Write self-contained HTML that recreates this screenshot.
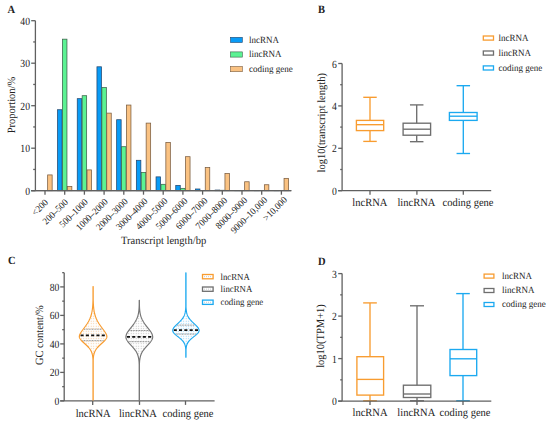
<!DOCTYPE html>
<html><head><meta charset="utf-8"><style>
html,body{margin:0;padding:0;background:#fff;}
svg{display:block;font-family:"Liberation Serif", serif;text-rendering:geometricPrecision;}
</style></head><body>
<svg width="550" height="424" viewBox="0 0 550 424">
<rect width="550" height="424" fill="#fff"/>
<text transform="translate(7.60,13.00) scale(1.0,1.06)" font-size="10.5" text-anchor="start" font-weight="bold" fill="#222" stroke="#222" stroke-width="0">A</text>
<line x1="35.40" y1="20.70" x2="35.40" y2="190.70" stroke="#606060" stroke-width="1.3" />
<line x1="31.20" y1="190.70" x2="35.40" y2="190.70" stroke="#606060" stroke-width="1.3" />
<text transform="translate(30.00,194.70) scale(0.92,1.05)" font-size="10.5" text-anchor="end" font-weight="normal" fill="#222" stroke="#222" stroke-width="0">0</text>
<line x1="33.20" y1="169.45" x2="35.40" y2="169.45" stroke="#606060" stroke-width="1.3" />
<line x1="31.20" y1="148.20" x2="35.40" y2="148.20" stroke="#606060" stroke-width="1.3" />
<text transform="translate(30.00,152.20) scale(0.92,1.05)" font-size="10.5" text-anchor="end" font-weight="normal" fill="#222" stroke="#222" stroke-width="0">10</text>
<line x1="33.20" y1="126.95" x2="35.40" y2="126.95" stroke="#606060" stroke-width="1.3" />
<line x1="31.20" y1="105.70" x2="35.40" y2="105.70" stroke="#606060" stroke-width="1.3" />
<text transform="translate(30.00,109.70) scale(0.92,1.05)" font-size="10.5" text-anchor="end" font-weight="normal" fill="#222" stroke="#222" stroke-width="0">20</text>
<line x1="33.20" y1="84.45" x2="35.40" y2="84.45" stroke="#606060" stroke-width="1.3" />
<line x1="31.20" y1="63.20" x2="35.40" y2="63.20" stroke="#606060" stroke-width="1.3" />
<text transform="translate(30.00,67.20) scale(0.92,1.05)" font-size="10.5" text-anchor="end" font-weight="normal" fill="#222" stroke="#222" stroke-width="0">30</text>
<line x1="33.20" y1="41.95" x2="35.40" y2="41.95" stroke="#606060" stroke-width="1.3" />
<line x1="31.20" y1="20.70" x2="35.40" y2="20.70" stroke="#606060" stroke-width="1.3" />
<text transform="translate(30.00,24.70) scale(0.92,1.05)" font-size="10.5" text-anchor="end" font-weight="normal" fill="#222" stroke="#222" stroke-width="0">40</text>
<line x1="31.20" y1="190.70" x2="291.30" y2="190.70" stroke="#606060" stroke-width="1.3" />
<text transform="translate(15.20,105.00) rotate(-90) scale(1.0,1.06)" font-size="10.5" text-anchor="middle" font-weight="normal" fill="#222" stroke="#222" stroke-width="0">Proportion/%</text>
<text transform="translate(163.60,244.00) scale(1.0,1.06)" font-size="10.5" text-anchor="middle" font-weight="normal" fill="#222" stroke="#222" stroke-width="0">Transcript length/bp</text>
<rect x="47.65" y="174.92" width="4.50" height="15.78" fill="#fac282" stroke="#7a5c3f" stroke-width="0.75" />
<line x1="45.00" y1="190.70" x2="45.00" y2="194.70" stroke="#606060" stroke-width="1.3" />
<text transform="translate(48.70,203.00) rotate(-45) scale(1.0,1.06)" font-size="9.0" text-anchor="end" font-weight="normal" fill="#222" stroke="#222" stroke-width="0">&lt;200</text>
<rect x="57.55" y="109.72" width="4.50" height="80.98" fill="#089bf6" stroke="#24466e" stroke-width="0.75" />
<rect x="62.45" y="39.17" width="4.50" height="151.53" fill="#5cf393" stroke="#3b6049" stroke-width="0.75" />
<rect x="67.35" y="186.48" width="4.50" height="4.22" fill="#fac282" stroke="#7a5c3f" stroke-width="0.75" />
<line x1="64.70" y1="190.70" x2="64.70" y2="194.70" stroke="#606060" stroke-width="1.3" />
<text transform="translate(68.62,202.78) rotate(-45) scale(1.0,1.06)" font-size="9.0" text-anchor="end" font-weight="normal" fill="#222" stroke="#222" stroke-width="0">200–500</text>
<rect x="77.25" y="98.67" width="4.50" height="92.02" fill="#089bf6" stroke="#24466e" stroke-width="0.75" />
<rect x="82.15" y="95.70" width="4.50" height="95.00" fill="#5cf393" stroke="#3b6049" stroke-width="0.75" />
<rect x="87.05" y="169.90" width="4.50" height="20.80" fill="#fac282" stroke="#7a5c3f" stroke-width="0.75" />
<line x1="84.40" y1="190.70" x2="84.40" y2="194.70" stroke="#606060" stroke-width="1.3" />
<text transform="translate(88.54,202.56) rotate(-45) scale(1.0,1.06)" font-size="9.0" text-anchor="end" font-weight="normal" fill="#222" stroke="#222" stroke-width="0">500–1000</text>
<rect x="96.95" y="66.80" width="4.50" height="123.90" fill="#089bf6" stroke="#24466e" stroke-width="0.75" />
<rect x="101.85" y="87.62" width="4.50" height="103.08" fill="#5cf393" stroke="#3b6049" stroke-width="0.75" />
<rect x="106.75" y="113.12" width="4.50" height="77.58" fill="#fac282" stroke="#7a5c3f" stroke-width="0.75" />
<line x1="104.10" y1="190.70" x2="104.10" y2="194.70" stroke="#606060" stroke-width="1.3" />
<text transform="translate(108.46,202.34) rotate(-45) scale(1.0,1.06)" font-size="9.0" text-anchor="end" font-weight="normal" fill="#222" stroke="#222" stroke-width="0">1000–2000</text>
<rect x="116.65" y="119.71" width="4.50" height="70.99" fill="#089bf6" stroke="#24466e" stroke-width="0.75" />
<rect x="121.55" y="146.70" width="4.50" height="44.00" fill="#5cf393" stroke="#3b6049" stroke-width="0.75" />
<rect x="126.45" y="105.05" width="4.50" height="85.65" fill="#fac282" stroke="#7a5c3f" stroke-width="0.75" />
<line x1="123.80" y1="190.70" x2="123.80" y2="194.70" stroke="#606060" stroke-width="1.3" />
<text transform="translate(128.38,202.12) rotate(-45) scale(1.0,1.06)" font-size="9.0" text-anchor="end" font-weight="normal" fill="#222" stroke="#222" stroke-width="0">2000–3000</text>
<rect x="136.35" y="160.30" width="4.50" height="30.40" fill="#089bf6" stroke="#24466e" stroke-width="0.75" />
<rect x="141.25" y="172.41" width="4.50" height="18.29" fill="#5cf393" stroke="#3b6049" stroke-width="0.75" />
<rect x="146.15" y="123.11" width="4.50" height="67.59" fill="#fac282" stroke="#7a5c3f" stroke-width="0.75" />
<line x1="143.50" y1="190.70" x2="143.50" y2="194.70" stroke="#606060" stroke-width="1.3" />
<text transform="translate(148.30,201.90) rotate(-45) scale(1.0,1.06)" font-size="9.0" text-anchor="end" font-weight="normal" fill="#222" stroke="#222" stroke-width="0">3000–4000</text>
<rect x="156.05" y="176.87" width="4.50" height="13.82" fill="#089bf6" stroke="#24466e" stroke-width="0.75" />
<rect x="160.95" y="184.31" width="4.50" height="6.39" fill="#5cf393" stroke="#3b6049" stroke-width="0.75" />
<rect x="165.85" y="142.45" width="4.50" height="48.25" fill="#fac282" stroke="#7a5c3f" stroke-width="0.75" />
<line x1="163.20" y1="190.70" x2="163.20" y2="194.70" stroke="#606060" stroke-width="1.3" />
<text transform="translate(168.22,201.68) rotate(-45) scale(1.0,1.06)" font-size="9.0" text-anchor="end" font-weight="normal" fill="#222" stroke="#222" stroke-width="0">4000–5000</text>
<rect x="175.75" y="185.37" width="4.50" height="5.33" fill="#089bf6" stroke="#24466e" stroke-width="0.75" />
<rect x="180.65" y="188.35" width="4.50" height="2.35" fill="#5cf393" stroke="#3b6049" stroke-width="0.75" />
<rect x="185.55" y="156.69" width="4.50" height="34.01" fill="#fac282" stroke="#7a5c3f" stroke-width="0.75" />
<line x1="182.90" y1="190.70" x2="182.90" y2="194.70" stroke="#606060" stroke-width="1.3" />
<text transform="translate(188.14,201.46) rotate(-45) scale(1.0,1.06)" font-size="9.0" text-anchor="end" font-weight="normal" fill="#222" stroke="#222" stroke-width="0">5000–6000</text>
<rect x="195.45" y="188.99" width="4.50" height="1.71" fill="#089bf6" stroke="#24466e" stroke-width="0.75" />
<rect x="200.35" y="190.47" width="4.50" height="0.23" fill="#5cf393" stroke="#3b6049" stroke-width="0.75" />
<rect x="205.25" y="167.52" width="4.50" height="23.18" fill="#fac282" stroke="#7a5c3f" stroke-width="0.75" />
<line x1="202.60" y1="190.70" x2="202.60" y2="194.70" stroke="#606060" stroke-width="1.3" />
<text transform="translate(208.06,201.24) rotate(-45) scale(1.0,1.06)" font-size="9.0" text-anchor="end" font-weight="normal" fill="#222" stroke="#222" stroke-width="0">6000–7000</text>
<rect x="215.15" y="190.05" width="4.50" height="0.65" fill="#089bf6" stroke="#24466e" stroke-width="0.75" />
<rect x="220.05" y="190.26" width="4.50" height="0.44" fill="#5cf393" stroke="#3b6049" stroke-width="0.75" />
<rect x="224.95" y="173.47" width="4.50" height="17.22" fill="#fac282" stroke="#7a5c3f" stroke-width="0.75" />
<line x1="222.30" y1="190.70" x2="222.30" y2="194.70" stroke="#606060" stroke-width="1.3" />
<text transform="translate(227.98,201.02) rotate(-45) scale(1.0,1.06)" font-size="9.0" text-anchor="end" font-weight="normal" fill="#222" stroke="#222" stroke-width="0">7000–8000</text>
<rect x="234.85" y="190.47" width="4.50" height="0.23" fill="#089bf6" stroke="#24466e" stroke-width="0.75" />
<rect x="239.75" y="190.69" width="4.50" height="0.01" fill="#5cf393" stroke="#3b6049" stroke-width="0.75" />
<rect x="244.65" y="181.76" width="4.50" height="8.94" fill="#fac282" stroke="#7a5c3f" stroke-width="0.75" />
<line x1="242.00" y1="190.70" x2="242.00" y2="194.70" stroke="#606060" stroke-width="1.3" />
<text transform="translate(247.90,200.80) rotate(-45) scale(1.0,1.06)" font-size="9.0" text-anchor="end" font-weight="normal" fill="#222" stroke="#222" stroke-width="0">8000–9000</text>
<rect x="254.55" y="190.69" width="4.50" height="0.01" fill="#089bf6" stroke="#24466e" stroke-width="0.75" />
<rect x="259.45" y="190.81" width="4.50" height="-0.12" fill="#5cf393" stroke="#3b6049" stroke-width="0.75" />
<rect x="264.35" y="184.74" width="4.50" height="5.96" fill="#fac282" stroke="#7a5c3f" stroke-width="0.75" />
<line x1="261.70" y1="190.70" x2="261.70" y2="194.70" stroke="#606060" stroke-width="1.3" />
<text transform="translate(267.82,200.58) rotate(-45) scale(1.0,1.06)" font-size="9.0" text-anchor="end" font-weight="normal" fill="#222" stroke="#222" stroke-width="0">9000–10,000</text>
<rect x="274.25" y="190.47" width="4.50" height="0.23" fill="#089bf6" stroke="#24466e" stroke-width="0.75" />
<rect x="279.15" y="190.81" width="4.50" height="-0.12" fill="#5cf393" stroke="#3b6049" stroke-width="0.75" />
<rect x="284.05" y="178.36" width="4.50" height="12.34" fill="#fac282" stroke="#7a5c3f" stroke-width="0.75" />
<line x1="281.40" y1="190.70" x2="281.40" y2="194.70" stroke="#606060" stroke-width="1.3" />
<text transform="translate(287.74,200.36) rotate(-45) scale(1.0,1.06)" font-size="9.0" text-anchor="end" font-weight="normal" fill="#222" stroke="#222" stroke-width="0">&gt;10,000</text>
<line x1="31.20" y1="190.70" x2="291.30" y2="190.70" stroke="#606060" stroke-width="1.3" />
<rect x="230.50" y="37.30" width="11.80" height="5.20" fill="#089bf6" stroke="#24466e" stroke-width="0.6" />
<text transform="translate(249.00,42.70) scale(1.0,1.06)" font-size="9" text-anchor="start" font-weight="normal" fill="#222" stroke="#222" stroke-width="0">lncRNA</text>
<rect x="230.50" y="51.90" width="11.80" height="5.20" fill="#5cf393" stroke="#3b6049" stroke-width="0.6" />
<text transform="translate(249.00,57.30) scale(1.0,1.06)" font-size="9" text-anchor="start" font-weight="normal" fill="#222" stroke="#222" stroke-width="0">lincRNA</text>
<rect x="230.50" y="66.50" width="11.80" height="5.20" fill="#fac282" stroke="#7a5c3f" stroke-width="0.6" />
<text transform="translate(249.00,71.90) scale(1.0,1.06)" font-size="9" text-anchor="start" font-weight="normal" fill="#222" stroke="#222" stroke-width="0">coding gene</text>
<text transform="translate(318.00,13.20) scale(1.0,1.06)" font-size="10.5" text-anchor="start" font-weight="bold" fill="#222" stroke="#222" stroke-width="0">B</text>
<line x1="342.10" y1="63.50" x2="342.10" y2="190.70" stroke="#606060" stroke-width="1.3" />
<line x1="338.20" y1="190.70" x2="342.10" y2="190.70" stroke="#606060" stroke-width="1.3" />
<text transform="translate(336.80,194.70) scale(0.92,1.05)" font-size="10.5" text-anchor="end" font-weight="normal" fill="#222" stroke="#222" stroke-width="0">0</text>
<line x1="340.20" y1="169.50" x2="342.10" y2="169.50" stroke="#606060" stroke-width="1.3" />
<line x1="338.20" y1="148.30" x2="342.10" y2="148.30" stroke="#606060" stroke-width="1.3" />
<text transform="translate(336.80,152.30) scale(0.92,1.05)" font-size="10.5" text-anchor="end" font-weight="normal" fill="#222" stroke="#222" stroke-width="0">2</text>
<line x1="340.20" y1="127.10" x2="342.10" y2="127.10" stroke="#606060" stroke-width="1.3" />
<line x1="338.20" y1="105.90" x2="342.10" y2="105.90" stroke="#606060" stroke-width="1.3" />
<text transform="translate(336.80,109.90) scale(0.92,1.05)" font-size="10.5" text-anchor="end" font-weight="normal" fill="#222" stroke="#222" stroke-width="0">4</text>
<line x1="340.20" y1="84.70" x2="342.10" y2="84.70" stroke="#606060" stroke-width="1.3" />
<line x1="338.20" y1="63.50" x2="342.10" y2="63.50" stroke="#606060" stroke-width="1.3" />
<text transform="translate(336.80,67.50) scale(0.92,1.05)" font-size="10.5" text-anchor="end" font-weight="normal" fill="#222" stroke="#222" stroke-width="0">6</text>
<line x1="338.20" y1="190.70" x2="491.20" y2="190.70" stroke="#606060" stroke-width="1.3" />
<line x1="370.00" y1="190.70" x2="370.00" y2="194.70" stroke="#606060" stroke-width="1.3" />
<line x1="416.90" y1="190.70" x2="416.90" y2="194.70" stroke="#606060" stroke-width="1.3" />
<line x1="463.30" y1="190.70" x2="463.30" y2="194.70" stroke="#606060" stroke-width="1.3" />
<text transform="translate(325.00,122.80) rotate(-90) scale(1.0,1.06)" font-size="10.5" text-anchor="middle" font-weight="normal" fill="#222" stroke="#222" stroke-width="0">log10(transcript length)</text>
<text transform="translate(369.80,206.00) scale(1.0,1.06)" font-size="10.5" text-anchor="middle" font-weight="normal" fill="#222" stroke="#222" stroke-width="0">lncRNA</text>
<text transform="translate(416.40,206.00) scale(1.0,1.06)" font-size="10.5" text-anchor="middle" font-weight="normal" fill="#222" stroke="#222" stroke-width="0">lincRNA</text>
<text transform="translate(468.00,206.00) scale(1.0,1.06)" font-size="10.5" text-anchor="middle" font-weight="normal" fill="#222" stroke="#222" stroke-width="0">coding gene</text>
<line x1="370.00" y1="97.30" x2="370.00" y2="120.40" stroke="#f89c30" stroke-width="1.35" />
<line x1="370.00" y1="130.60" x2="370.00" y2="141.40" stroke="#f89c30" stroke-width="1.35" />
<line x1="363.25" y1="97.30" x2="376.75" y2="97.30" stroke="#f89c30" stroke-width="1.35" />
<line x1="363.25" y1="141.40" x2="376.75" y2="141.40" stroke="#f89c30" stroke-width="1.35" />
<rect x="356.40" y="120.40" width="27.30" height="10.20" fill="none" stroke="#f89c30" stroke-width="1.35" />
<line x1="356.40" y1="124.70" x2="383.70" y2="124.70" stroke="#f89c30" stroke-width="1.35" />
<line x1="416.70" y1="104.90" x2="416.70" y2="123.20" stroke="#6e6e6e" stroke-width="1.35" />
<line x1="416.70" y1="135.20" x2="416.70" y2="141.70" stroke="#6e6e6e" stroke-width="1.35" />
<line x1="409.95" y1="104.90" x2="423.45" y2="104.90" stroke="#6e6e6e" stroke-width="1.35" />
<line x1="409.95" y1="141.70" x2="423.45" y2="141.70" stroke="#6e6e6e" stroke-width="1.35" />
<rect x="403.10" y="123.20" width="27.50" height="12.00" fill="none" stroke="#6e6e6e" stroke-width="1.35" />
<line x1="403.10" y1="129.20" x2="430.60" y2="129.20" stroke="#6e6e6e" stroke-width="1.35" />
<line x1="463.30" y1="85.70" x2="463.30" y2="112.50" stroke="#1ba9f0" stroke-width="1.35" />
<line x1="463.30" y1="120.40" x2="463.30" y2="153.50" stroke="#1ba9f0" stroke-width="1.35" />
<line x1="456.55" y1="85.70" x2="470.05" y2="85.70" stroke="#1ba9f0" stroke-width="1.35" />
<line x1="456.55" y1="153.50" x2="470.05" y2="153.50" stroke="#1ba9f0" stroke-width="1.35" />
<rect x="449.40" y="112.50" width="27.70" height="7.90" fill="none" stroke="#1ba9f0" stroke-width="1.35" />
<line x1="449.40" y1="116.20" x2="477.10" y2="116.20" stroke="#1ba9f0" stroke-width="1.35" />
<rect x="483.30" y="36.00" width="10.20" height="4.10" fill="none" stroke="#f89c30" stroke-width="1.3" />
<text transform="translate(498.40,40.80) scale(1.0,1.06)" font-size="9" text-anchor="start" font-weight="normal" fill="#222" stroke="#222" stroke-width="0">lncRNA</text>
<rect x="483.30" y="51.00" width="10.20" height="4.10" fill="none" stroke="#6e6e6e" stroke-width="1.3" />
<text transform="translate(498.40,55.80) scale(1.0,1.06)" font-size="9" text-anchor="start" font-weight="normal" fill="#222" stroke="#222" stroke-width="0">lincRNA</text>
<rect x="483.30" y="65.90" width="10.20" height="4.10" fill="none" stroke="#1ba9f0" stroke-width="1.3" />
<text transform="translate(498.40,70.70) scale(1.0,1.06)" font-size="9" text-anchor="start" font-weight="normal" fill="#222" stroke="#222" stroke-width="0">coding gene</text>
<text transform="translate(7.90,264.20) scale(1.0,1.06)" font-size="10.5" text-anchor="start" font-weight="bold" fill="#222" stroke="#222" stroke-width="0">C</text>
<line x1="64.20" y1="272.65" x2="64.20" y2="400.90" stroke="#606060" stroke-width="1.3" />
<line x1="60.20" y1="400.90" x2="64.20" y2="400.90" stroke="#606060" stroke-width="1.3" />
<text transform="translate(59.30,404.90) scale(0.92,1.05)" font-size="10.5" text-anchor="end" font-weight="normal" fill="#222" stroke="#222" stroke-width="0">0</text>
<line x1="62.20" y1="386.65" x2="64.20" y2="386.65" stroke="#606060" stroke-width="1.3" />
<line x1="60.20" y1="372.40" x2="64.20" y2="372.40" stroke="#606060" stroke-width="1.3" />
<text transform="translate(59.30,376.40) scale(0.92,1.05)" font-size="10.5" text-anchor="end" font-weight="normal" fill="#222" stroke="#222" stroke-width="0">20</text>
<line x1="62.20" y1="358.15" x2="64.20" y2="358.15" stroke="#606060" stroke-width="1.3" />
<line x1="60.20" y1="343.90" x2="64.20" y2="343.90" stroke="#606060" stroke-width="1.3" />
<text transform="translate(59.30,347.90) scale(0.92,1.05)" font-size="10.5" text-anchor="end" font-weight="normal" fill="#222" stroke="#222" stroke-width="0">40</text>
<line x1="62.20" y1="329.65" x2="64.20" y2="329.65" stroke="#606060" stroke-width="1.3" />
<line x1="60.20" y1="315.40" x2="64.20" y2="315.40" stroke="#606060" stroke-width="1.3" />
<text transform="translate(59.30,319.40) scale(0.92,1.05)" font-size="10.5" text-anchor="end" font-weight="normal" fill="#222" stroke="#222" stroke-width="0">60</text>
<line x1="62.20" y1="301.15" x2="64.20" y2="301.15" stroke="#606060" stroke-width="1.3" />
<line x1="60.20" y1="286.90" x2="64.20" y2="286.90" stroke="#606060" stroke-width="1.3" />
<text transform="translate(59.30,290.90) scale(0.92,1.05)" font-size="10.5" text-anchor="end" font-weight="normal" fill="#222" stroke="#222" stroke-width="0">80</text>
<line x1="62.20" y1="272.65" x2="64.20" y2="272.65" stroke="#606060" stroke-width="1.3" />
<line x1="60.20" y1="400.90" x2="214.60" y2="400.90" stroke="#606060" stroke-width="1.3" />
<line x1="92.70" y1="400.90" x2="92.70" y2="404.90" stroke="#606060" stroke-width="1.3" />
<line x1="139.50" y1="400.90" x2="139.50" y2="404.90" stroke="#606060" stroke-width="1.3" />
<line x1="185.50" y1="400.90" x2="185.50" y2="404.90" stroke="#606060" stroke-width="1.3" />
<text transform="translate(42.50,335.20) rotate(-90) scale(1.0,1.06)" font-size="10.5" text-anchor="middle" font-weight="normal" fill="#222" stroke="#222" stroke-width="0">GC content/%</text>
<text transform="translate(93.20,416.60) scale(1.0,1.06)" font-size="10.5" text-anchor="middle" font-weight="normal" fill="#222" stroke="#222" stroke-width="0">lncRNA</text>
<text transform="translate(137.90,416.60) scale(1.0,1.06)" font-size="10.5" text-anchor="middle" font-weight="normal" fill="#222" stroke="#222" stroke-width="0">lincRNA</text>
<text transform="translate(188.00,416.60) scale(1.0,1.06)" font-size="10.5" text-anchor="middle" font-weight="normal" fill="#222" stroke="#222" stroke-width="0">coding gene</text>
<defs><pattern id="dots0" width="2.5" height="2.5" patternUnits="userSpaceOnUse"><rect width="2.5" height="2.5" fill="#fff"/><rect x="0.7" y="0.7" width="1.0" height="1.0" fill="#f7c99a"/></pattern><pattern id="dots1" width="2.5" height="2.5" patternUnits="userSpaceOnUse"><rect width="2.5" height="2.5" fill="#fff"/><rect x="0.7" y="0.7" width="1.0" height="1.0" fill="#bdbdbd"/></pattern><pattern id="dots2" width="2.5" height="2.5" patternUnits="userSpaceOnUse"><rect width="2.5" height="2.5" fill="#fff"/><rect x="0.7" y="0.7" width="1.0" height="1.0" fill="#8fd0f4"/></pattern></defs>
<path d="M93.20,286.50 L93.20,287.00 L93.20,287.50 L93.20,288.00 L93.20,288.50 L93.20,289.00 L93.20,289.50 L93.20,290.00 L93.20,290.50 L93.20,291.00 L93.20,291.50 L93.20,292.00 L93.20,292.50 L93.20,293.00 L93.20,293.50 L93.20,294.00 L93.20,294.50 L93.20,295.00 L93.20,295.50 L93.20,296.00 L93.20,296.50 L93.20,297.00 L93.20,297.50 L93.20,298.00 L93.20,298.50 L93.20,299.00 L93.21,299.50 L93.22,300.00 L93.23,300.50 L93.25,301.00 L93.26,301.50 L93.28,302.00 L93.30,302.50 L93.32,303.00 L93.35,303.50 L93.37,304.00 L93.40,304.50 L93.43,305.00 L93.47,305.50 L93.50,306.00 L93.54,306.50 L93.59,307.00 L93.64,307.50 L93.69,308.00 L93.74,308.50 L93.80,309.00 L93.87,309.50 L93.94,310.00 L94.02,310.50 L94.10,311.00 L94.19,311.50 L94.28,312.00 L94.38,312.50 L94.49,313.00 L94.60,313.50 L94.73,314.00 L94.86,314.50 L95.00,315.00 L95.15,315.50 L95.31,316.00 L95.48,316.50 L95.65,317.00 L95.84,317.50 L96.04,318.00 L96.25,318.50 L96.46,319.00 L96.69,319.50 L96.93,320.00 L97.18,320.50 L97.45,321.00 L97.72,321.50 L98.00,322.00 L98.30,322.50 L98.60,323.00 L98.91,323.50 L99.24,324.00 L99.57,324.50 L99.91,325.00 L100.26,325.50 L100.62,326.00 L100.98,326.50 L101.34,327.00 L101.71,327.50 L102.09,328.00 L102.46,328.50 L102.84,329.00 L103.21,329.50 L103.58,330.00 L103.94,330.50 L104.30,331.00 L104.64,331.50 L104.98,332.00 L105.30,332.50 L105.60,333.00 L105.88,333.50 L106.14,334.00 L106.37,334.50 L106.57,335.00 L106.73,335.50 L106.84,336.00 L106.90,336.50 L106.86,337.00 L106.74,337.50 L106.55,338.00 L106.30,338.50 L105.99,339.00 L105.64,339.50 L105.23,340.00 L104.79,340.50 L104.32,341.00 L103.81,341.50 L103.29,342.00 L102.75,342.50 L102.19,343.00 L101.64,343.50 L101.08,344.00 L100.53,344.50 L99.99,345.00 L99.46,345.50 L98.95,346.00 L98.46,346.50 L97.99,347.00 L97.54,347.50 L97.12,348.00 L96.73,348.50 L96.35,349.00 L96.01,349.50 L95.69,350.00 L95.40,350.50 L95.13,351.00 L94.89,351.50 L94.67,352.00 L94.47,352.50 L94.29,353.00 L94.13,353.50 L93.99,354.00 L93.87,354.50 L93.76,355.00 L93.66,355.50 L93.58,356.00 L93.51,356.50 L93.44,357.00 L93.39,357.50 L93.34,358.00 L93.30,358.50 L93.27,359.00 L93.24,359.50 L93.21,360.00 L93.20,360.50 L93.20,361.00 L93.20,361.50 L93.20,362.00 L93.20,362.50 L93.20,363.00 L93.20,363.50 L93.20,364.00 L93.20,364.50 L93.20,365.00 L93.20,365.50 L93.20,366.00 L93.20,366.50 L93.20,367.00 L93.20,367.50 L93.20,368.00 L93.20,368.50 L93.20,369.00 L93.20,369.50 L93.20,370.00 L93.20,370.50 L93.20,371.00 L93.20,371.50 L93.20,372.00 L93.20,372.50 L93.20,373.00 L93.20,373.50 L93.20,374.00 L93.20,374.50 L93.20,375.00 L93.20,375.50 L93.20,376.00 L93.20,376.50 L93.20,377.00 L93.20,377.50 L93.20,378.00 L93.20,378.50 L93.20,379.00 L93.20,379.50 L93.20,380.00 L93.20,380.50 L93.20,381.00 L93.20,381.50 L93.20,382.00 L93.20,382.50 L93.20,383.00 L93.20,383.50 L93.20,384.00 L93.20,384.50 L93.20,385.00 L93.20,385.50 L93.20,386.00 L93.20,386.50 L93.20,387.00 L93.20,387.50 L93.20,388.00 L93.20,388.50 L93.20,389.00 L93.20,389.50 L93.20,390.00 L93.20,390.50 L93.20,391.00 L93.20,391.50 L93.20,392.00 L93.20,392.50 L93.20,393.00 L93.20,393.50 L93.20,394.00 L93.20,394.50 L93.20,395.00 L93.20,395.50 L93.20,396.00 L93.20,396.50 L93.20,397.00 L93.20,397.50 L93.20,398.00 L93.20,398.50 L93.20,399.00 L93.20,399.50 L93.20,400.00 L93.00,400.00 L93.00,399.50 L93.00,399.00 L93.00,398.50 L93.00,398.00 L93.00,397.50 L93.00,397.00 L93.00,396.50 L93.00,396.00 L93.00,395.50 L93.00,395.00 L93.00,394.50 L93.00,394.00 L93.00,393.50 L93.00,393.00 L93.00,392.50 L93.00,392.00 L93.00,391.50 L93.00,391.00 L93.00,390.50 L93.00,390.00 L93.00,389.50 L93.00,389.00 L93.00,388.50 L93.00,388.00 L93.00,387.50 L93.00,387.00 L93.00,386.50 L93.00,386.00 L93.00,385.50 L93.00,385.00 L93.00,384.50 L93.00,384.00 L93.00,383.50 L93.00,383.00 L93.00,382.50 L93.00,382.00 L93.00,381.50 L93.00,381.00 L93.00,380.50 L93.00,380.00 L93.00,379.50 L93.00,379.00 L93.00,378.50 L93.00,378.00 L93.00,377.50 L93.00,377.00 L93.00,376.50 L93.00,376.00 L93.00,375.50 L93.00,375.00 L93.00,374.50 L93.00,374.00 L93.00,373.50 L93.00,373.00 L93.00,372.50 L93.00,372.00 L93.00,371.50 L93.00,371.00 L93.00,370.50 L93.00,370.00 L93.00,369.50 L93.00,369.00 L93.00,368.50 L93.00,368.00 L93.00,367.50 L93.00,367.00 L93.00,366.50 L93.00,366.00 L93.00,365.50 L93.00,365.00 L93.00,364.50 L93.00,364.00 L93.00,363.50 L93.00,363.00 L93.00,362.50 L93.00,362.00 L93.00,361.50 L93.00,361.00 L93.00,360.50 L92.99,360.00 L92.96,359.50 L92.93,359.00 L92.90,358.50 L92.86,358.00 L92.81,357.50 L92.76,357.00 L92.69,356.50 L92.62,356.00 L92.54,355.50 L92.44,355.00 L92.33,354.50 L92.21,354.00 L92.07,353.50 L91.91,353.00 L91.73,352.50 L91.53,352.00 L91.31,351.50 L91.07,351.00 L90.80,350.50 L90.51,350.00 L90.19,349.50 L89.85,349.00 L89.47,348.50 L89.08,348.00 L88.66,347.50 L88.21,347.00 L87.74,346.50 L87.25,346.00 L86.74,345.50 L86.21,345.00 L85.67,344.50 L85.12,344.00 L84.56,343.50 L84.01,343.00 L83.45,342.50 L82.91,342.00 L82.39,341.50 L81.88,341.00 L81.41,340.50 L80.97,340.00 L80.56,339.50 L80.21,339.00 L79.90,338.50 L79.65,338.00 L79.46,337.50 L79.34,337.00 L79.30,336.50 L79.36,336.00 L79.47,335.50 L79.63,335.00 L79.83,334.50 L80.06,334.00 L80.32,333.50 L80.60,333.00 L80.90,332.50 L81.22,332.00 L81.56,331.50 L81.90,331.00 L82.26,330.50 L82.62,330.00 L82.99,329.50 L83.36,329.00 L83.74,328.50 L84.11,328.00 L84.49,327.50 L84.86,327.00 L85.22,326.50 L85.58,326.00 L85.94,325.50 L86.29,325.00 L86.63,324.50 L86.96,324.00 L87.29,323.50 L87.60,323.00 L87.90,322.50 L88.20,322.00 L88.48,321.50 L88.75,321.00 L89.02,320.50 L89.27,320.00 L89.51,319.50 L89.74,319.00 L89.95,318.50 L90.16,318.00 L90.36,317.50 L90.55,317.00 L90.72,316.50 L90.89,316.00 L91.05,315.50 L91.20,315.00 L91.34,314.50 L91.47,314.00 L91.60,313.50 L91.71,313.00 L91.82,312.50 L91.92,312.00 L92.01,311.50 L92.10,311.00 L92.18,310.50 L92.26,310.00 L92.33,309.50 L92.40,309.00 L92.46,308.50 L92.51,308.00 L92.56,307.50 L92.61,307.00 L92.66,306.50 L92.70,306.00 L92.73,305.50 L92.77,305.00 L92.80,304.50 L92.83,304.00 L92.85,303.50 L92.88,303.00 L92.90,302.50 L92.92,302.00 L92.94,301.50 L92.95,301.00 L92.97,300.50 L92.98,300.00 L92.99,299.50 L93.00,299.00 L93.00,298.50 L93.00,298.00 L93.00,297.50 L93.00,297.00 L93.00,296.50 L93.00,296.00 L93.00,295.50 L93.00,295.00 L93.00,294.50 L93.00,294.00 L93.00,293.50 L93.00,293.00 L93.00,292.50 L93.00,292.00 L93.00,291.50 L93.00,291.00 L93.00,290.50 L93.00,290.00 L93.00,289.50 L93.00,289.00 L93.00,288.50 L93.00,288.00 L93.00,287.50 L93.00,287.00 L93.00,286.50 Z" fill="url(#dots0)" stroke="none"/>
<line x1="84.01" y1="329.20" x2="102.19" y2="329.20" stroke="#8a8a8a" stroke-width="1.0" stroke-dasharray="1,0.6"/>
<line x1="82.39" y1="340.70" x2="103.81" y2="340.70" stroke="#8a8a8a" stroke-width="1.0" stroke-dasharray="1,0.6"/>
<line x1="80.53" y1="335.30" x2="105.67" y2="335.30" stroke="#111" stroke-width="1.7" stroke-dasharray="3.1,2.2"/>
<path d="M93.20,286.50 L93.20,287.00 L93.20,287.50 L93.20,288.00 L93.20,288.50 L93.20,289.00 L93.20,289.50 L93.20,290.00 L93.20,290.50 L93.20,291.00 L93.20,291.50 L93.20,292.00 L93.20,292.50 L93.20,293.00 L93.20,293.50 L93.20,294.00 L93.20,294.50 L93.20,295.00 L93.20,295.50 L93.20,296.00 L93.20,296.50 L93.20,297.00 L93.20,297.50 L93.20,298.00 L93.20,298.50 L93.20,299.00 L93.21,299.50 L93.22,300.00 L93.23,300.50 L93.25,301.00 L93.26,301.50 L93.28,302.00 L93.30,302.50 L93.32,303.00 L93.35,303.50 L93.37,304.00 L93.40,304.50 L93.43,305.00 L93.47,305.50 L93.50,306.00 L93.54,306.50 L93.59,307.00 L93.64,307.50 L93.69,308.00 L93.74,308.50 L93.80,309.00 L93.87,309.50 L93.94,310.00 L94.02,310.50 L94.10,311.00 L94.19,311.50 L94.28,312.00 L94.38,312.50 L94.49,313.00 L94.60,313.50 L94.73,314.00 L94.86,314.50 L95.00,315.00 L95.15,315.50 L95.31,316.00 L95.48,316.50 L95.65,317.00 L95.84,317.50 L96.04,318.00 L96.25,318.50 L96.46,319.00 L96.69,319.50 L96.93,320.00 L97.18,320.50 L97.45,321.00 L97.72,321.50 L98.00,322.00 L98.30,322.50 L98.60,323.00 L98.91,323.50 L99.24,324.00 L99.57,324.50 L99.91,325.00 L100.26,325.50 L100.62,326.00 L100.98,326.50 L101.34,327.00 L101.71,327.50 L102.09,328.00 L102.46,328.50 L102.84,329.00 L103.21,329.50 L103.58,330.00 L103.94,330.50 L104.30,331.00 L104.64,331.50 L104.98,332.00 L105.30,332.50 L105.60,333.00 L105.88,333.50 L106.14,334.00 L106.37,334.50 L106.57,335.00 L106.73,335.50 L106.84,336.00 L106.90,336.50 L106.86,337.00 L106.74,337.50 L106.55,338.00 L106.30,338.50 L105.99,339.00 L105.64,339.50 L105.23,340.00 L104.79,340.50 L104.32,341.00 L103.81,341.50 L103.29,342.00 L102.75,342.50 L102.19,343.00 L101.64,343.50 L101.08,344.00 L100.53,344.50 L99.99,345.00 L99.46,345.50 L98.95,346.00 L98.46,346.50 L97.99,347.00 L97.54,347.50 L97.12,348.00 L96.73,348.50 L96.35,349.00 L96.01,349.50 L95.69,350.00 L95.40,350.50 L95.13,351.00 L94.89,351.50 L94.67,352.00 L94.47,352.50 L94.29,353.00 L94.13,353.50 L93.99,354.00 L93.87,354.50 L93.76,355.00 L93.66,355.50 L93.58,356.00 L93.51,356.50 L93.44,357.00 L93.39,357.50 L93.34,358.00 L93.30,358.50 L93.27,359.00 L93.24,359.50 L93.21,360.00 L93.20,360.50 L93.20,361.00 L93.20,361.50 L93.20,362.00 L93.20,362.50 L93.20,363.00 L93.20,363.50 L93.20,364.00 L93.20,364.50 L93.20,365.00 L93.20,365.50 L93.20,366.00 L93.20,366.50 L93.20,367.00 L93.20,367.50 L93.20,368.00 L93.20,368.50 L93.20,369.00 L93.20,369.50 L93.20,370.00 L93.20,370.50 L93.20,371.00 L93.20,371.50 L93.20,372.00 L93.20,372.50 L93.20,373.00 L93.20,373.50 L93.20,374.00 L93.20,374.50 L93.20,375.00 L93.20,375.50 L93.20,376.00 L93.20,376.50 L93.20,377.00 L93.20,377.50 L93.20,378.00 L93.20,378.50 L93.20,379.00 L93.20,379.50 L93.20,380.00 L93.20,380.50 L93.20,381.00 L93.20,381.50 L93.20,382.00 L93.20,382.50 L93.20,383.00 L93.20,383.50 L93.20,384.00 L93.20,384.50 L93.20,385.00 L93.20,385.50 L93.20,386.00 L93.20,386.50 L93.20,387.00 L93.20,387.50 L93.20,388.00 L93.20,388.50 L93.20,389.00 L93.20,389.50 L93.20,390.00 L93.20,390.50 L93.20,391.00 L93.20,391.50 L93.20,392.00 L93.20,392.50 L93.20,393.00 L93.20,393.50 L93.20,394.00 L93.20,394.50 L93.20,395.00 L93.20,395.50 L93.20,396.00 L93.20,396.50 L93.20,397.00 L93.20,397.50 L93.20,398.00 L93.20,398.50 L93.20,399.00 L93.20,399.50 L93.20,400.00 L93.00,400.00 L93.00,399.50 L93.00,399.00 L93.00,398.50 L93.00,398.00 L93.00,397.50 L93.00,397.00 L93.00,396.50 L93.00,396.00 L93.00,395.50 L93.00,395.00 L93.00,394.50 L93.00,394.00 L93.00,393.50 L93.00,393.00 L93.00,392.50 L93.00,392.00 L93.00,391.50 L93.00,391.00 L93.00,390.50 L93.00,390.00 L93.00,389.50 L93.00,389.00 L93.00,388.50 L93.00,388.00 L93.00,387.50 L93.00,387.00 L93.00,386.50 L93.00,386.00 L93.00,385.50 L93.00,385.00 L93.00,384.50 L93.00,384.00 L93.00,383.50 L93.00,383.00 L93.00,382.50 L93.00,382.00 L93.00,381.50 L93.00,381.00 L93.00,380.50 L93.00,380.00 L93.00,379.50 L93.00,379.00 L93.00,378.50 L93.00,378.00 L93.00,377.50 L93.00,377.00 L93.00,376.50 L93.00,376.00 L93.00,375.50 L93.00,375.00 L93.00,374.50 L93.00,374.00 L93.00,373.50 L93.00,373.00 L93.00,372.50 L93.00,372.00 L93.00,371.50 L93.00,371.00 L93.00,370.50 L93.00,370.00 L93.00,369.50 L93.00,369.00 L93.00,368.50 L93.00,368.00 L93.00,367.50 L93.00,367.00 L93.00,366.50 L93.00,366.00 L93.00,365.50 L93.00,365.00 L93.00,364.50 L93.00,364.00 L93.00,363.50 L93.00,363.00 L93.00,362.50 L93.00,362.00 L93.00,361.50 L93.00,361.00 L93.00,360.50 L92.99,360.00 L92.96,359.50 L92.93,359.00 L92.90,358.50 L92.86,358.00 L92.81,357.50 L92.76,357.00 L92.69,356.50 L92.62,356.00 L92.54,355.50 L92.44,355.00 L92.33,354.50 L92.21,354.00 L92.07,353.50 L91.91,353.00 L91.73,352.50 L91.53,352.00 L91.31,351.50 L91.07,351.00 L90.80,350.50 L90.51,350.00 L90.19,349.50 L89.85,349.00 L89.47,348.50 L89.08,348.00 L88.66,347.50 L88.21,347.00 L87.74,346.50 L87.25,346.00 L86.74,345.50 L86.21,345.00 L85.67,344.50 L85.12,344.00 L84.56,343.50 L84.01,343.00 L83.45,342.50 L82.91,342.00 L82.39,341.50 L81.88,341.00 L81.41,340.50 L80.97,340.00 L80.56,339.50 L80.21,339.00 L79.90,338.50 L79.65,338.00 L79.46,337.50 L79.34,337.00 L79.30,336.50 L79.36,336.00 L79.47,335.50 L79.63,335.00 L79.83,334.50 L80.06,334.00 L80.32,333.50 L80.60,333.00 L80.90,332.50 L81.22,332.00 L81.56,331.50 L81.90,331.00 L82.26,330.50 L82.62,330.00 L82.99,329.50 L83.36,329.00 L83.74,328.50 L84.11,328.00 L84.49,327.50 L84.86,327.00 L85.22,326.50 L85.58,326.00 L85.94,325.50 L86.29,325.00 L86.63,324.50 L86.96,324.00 L87.29,323.50 L87.60,323.00 L87.90,322.50 L88.20,322.00 L88.48,321.50 L88.75,321.00 L89.02,320.50 L89.27,320.00 L89.51,319.50 L89.74,319.00 L89.95,318.50 L90.16,318.00 L90.36,317.50 L90.55,317.00 L90.72,316.50 L90.89,316.00 L91.05,315.50 L91.20,315.00 L91.34,314.50 L91.47,314.00 L91.60,313.50 L91.71,313.00 L91.82,312.50 L91.92,312.00 L92.01,311.50 L92.10,311.00 L92.18,310.50 L92.26,310.00 L92.33,309.50 L92.40,309.00 L92.46,308.50 L92.51,308.00 L92.56,307.50 L92.61,307.00 L92.66,306.50 L92.70,306.00 L92.73,305.50 L92.77,305.00 L92.80,304.50 L92.83,304.00 L92.85,303.50 L92.88,303.00 L92.90,302.50 L92.92,302.00 L92.94,301.50 L92.95,301.00 L92.97,300.50 L92.98,300.00 L92.99,299.50 L93.00,299.00 L93.00,298.50 L93.00,298.00 L93.00,297.50 L93.00,297.00 L93.00,296.50 L93.00,296.00 L93.00,295.50 L93.00,295.00 L93.00,294.50 L93.00,294.00 L93.00,293.50 L93.00,293.00 L93.00,292.50 L93.00,292.00 L93.00,291.50 L93.00,291.00 L93.00,290.50 L93.00,290.00 L93.00,289.50 L93.00,289.00 L93.00,288.50 L93.00,288.00 L93.00,287.50 L93.00,287.00 L93.00,286.50 Z" fill="none" stroke="#f89c30" stroke-width="1.15" stroke-linejoin="round"/>
<path d="M139.40,300.30 L139.40,300.80 L139.40,301.30 L139.40,301.80 L139.40,302.30 L139.40,302.80 L139.40,303.30 L139.40,303.80 L139.40,304.30 L139.40,304.80 L139.41,305.30 L139.43,305.80 L139.45,306.30 L139.47,306.80 L139.49,307.30 L139.52,307.80 L139.55,308.30 L139.59,308.80 L139.63,309.30 L139.67,309.80 L139.72,310.30 L139.78,310.80 L139.84,311.30 L139.91,311.80 L139.98,312.30 L140.06,312.80 L140.15,313.30 L140.25,313.80 L140.36,314.30 L140.47,314.80 L140.60,315.30 L140.74,315.80 L140.89,316.30 L141.05,316.80 L141.23,317.30 L141.41,317.80 L141.61,318.30 L141.83,318.80 L142.05,319.30 L142.29,319.80 L142.55,320.30 L142.82,320.80 L143.10,321.30 L143.40,321.80 L143.71,322.30 L144.03,322.80 L144.37,323.30 L144.71,323.80 L145.07,324.30 L145.44,324.80 L145.82,325.30 L146.20,325.80 L146.59,326.30 L146.99,326.80 L147.39,327.30 L147.79,327.80 L148.19,328.30 L148.58,328.80 L148.98,329.30 L149.36,329.80 L149.74,330.30 L150.10,330.80 L150.45,331.30 L150.78,331.80 L151.10,332.30 L151.39,332.80 L151.66,333.30 L151.90,333.80 L152.12,334.30 L152.30,334.80 L152.45,335.30 L152.57,335.80 L152.65,336.30 L152.70,336.80 L152.69,337.30 L152.62,337.80 L152.51,338.30 L152.35,338.80 L152.15,339.30 L151.90,339.80 L151.62,340.30 L151.30,340.80 L150.96,341.30 L150.58,341.80 L150.18,342.30 L149.77,342.80 L149.33,343.30 L148.89,343.80 L148.43,344.30 L147.97,344.80 L147.51,345.30 L147.05,345.80 L146.59,346.30 L146.14,346.80 L145.69,347.30 L145.26,347.80 L144.84,348.30 L144.43,348.80 L144.04,349.30 L143.67,349.80 L143.31,350.30 L142.98,350.80 L142.66,351.30 L142.35,351.80 L142.07,352.30 L141.81,352.80 L141.56,353.30 L141.34,353.80 L141.13,354.30 L140.94,354.80 L140.76,355.30 L140.60,355.80 L140.45,356.30 L140.32,356.80 L140.20,357.30 L140.09,357.80 L139.99,358.30 L139.90,358.80 L139.83,359.30 L139.76,359.80 L139.70,360.30 L139.64,360.80 L139.60,361.30 L139.55,361.80 L139.52,362.30 L139.49,362.80 L139.46,363.30 L139.44,363.80 L139.41,364.30 L139.40,364.80 L139.40,365.30 L139.40,365.80 L139.40,366.30 L139.40,366.80 L139.40,367.30 L139.40,367.80 L139.40,368.30 L139.40,368.80 L139.40,369.30 L139.40,369.80 L139.40,370.30 L139.40,370.80 L139.40,371.30 L139.40,371.80 L139.40,372.30 L139.40,372.80 L139.40,373.30 L139.40,373.80 L139.40,374.30 L139.40,374.80 L139.40,375.30 L139.40,375.80 L139.40,376.30 L139.40,376.80 L139.40,377.30 L139.40,377.80 L139.40,378.30 L139.40,378.80 L139.40,379.30 L139.40,379.80 L139.40,380.30 L139.40,380.80 L139.40,381.30 L139.40,381.80 L139.40,382.30 L139.40,382.80 L139.40,383.30 L139.40,383.80 L139.40,384.30 L139.40,384.80 L139.40,385.30 L139.40,385.80 L139.40,386.30 L139.40,386.80 L139.40,387.30 L139.40,387.80 L139.40,388.30 L139.40,388.80 L139.40,389.30 L139.40,389.80 L139.40,390.30 L139.40,390.80 L139.40,391.30 L139.40,391.80 L139.40,392.30 L139.40,392.80 L139.40,393.30 L139.40,393.80 L139.40,394.30 L139.40,394.80 L139.40,395.30 L139.40,395.80 L139.40,396.30 L139.40,396.80 L139.40,397.30 L139.40,397.80 L139.40,398.30 L139.40,398.80 L139.40,399.30 L139.40,399.80 L139.40,400.30 L139.40,400.80 L139.20,400.80 L139.20,400.30 L139.20,399.80 L139.20,399.30 L139.20,398.80 L139.20,398.30 L139.20,397.80 L139.20,397.30 L139.20,396.80 L139.20,396.30 L139.20,395.80 L139.20,395.30 L139.20,394.80 L139.20,394.30 L139.20,393.80 L139.20,393.30 L139.20,392.80 L139.20,392.30 L139.20,391.80 L139.20,391.30 L139.20,390.80 L139.20,390.30 L139.20,389.80 L139.20,389.30 L139.20,388.80 L139.20,388.30 L139.20,387.80 L139.20,387.30 L139.20,386.80 L139.20,386.30 L139.20,385.80 L139.20,385.30 L139.20,384.80 L139.20,384.30 L139.20,383.80 L139.20,383.30 L139.20,382.80 L139.20,382.30 L139.20,381.80 L139.20,381.30 L139.20,380.80 L139.20,380.30 L139.20,379.80 L139.20,379.30 L139.20,378.80 L139.20,378.30 L139.20,377.80 L139.20,377.30 L139.20,376.80 L139.20,376.30 L139.20,375.80 L139.20,375.30 L139.20,374.80 L139.20,374.30 L139.20,373.80 L139.20,373.30 L139.20,372.80 L139.20,372.30 L139.20,371.80 L139.20,371.30 L139.20,370.80 L139.20,370.30 L139.20,369.80 L139.20,369.30 L139.20,368.80 L139.20,368.30 L139.20,367.80 L139.20,367.30 L139.20,366.80 L139.20,366.30 L139.20,365.80 L139.20,365.30 L139.20,364.80 L139.19,364.30 L139.16,363.80 L139.14,363.30 L139.11,362.80 L139.08,362.30 L139.05,361.80 L139.00,361.30 L138.96,360.80 L138.90,360.30 L138.84,359.80 L138.77,359.30 L138.70,358.80 L138.61,358.30 L138.51,357.80 L138.40,357.30 L138.28,356.80 L138.15,356.30 L138.00,355.80 L137.84,355.30 L137.66,354.80 L137.47,354.30 L137.26,353.80 L137.04,353.30 L136.79,352.80 L136.53,352.30 L136.25,351.80 L135.94,351.30 L135.62,350.80 L135.29,350.30 L134.93,349.80 L134.56,349.30 L134.17,348.80 L133.76,348.30 L133.34,347.80 L132.91,347.30 L132.46,346.80 L132.01,346.30 L131.55,345.80 L131.09,345.30 L130.63,344.80 L130.17,344.30 L129.71,343.80 L129.27,343.30 L128.83,342.80 L128.42,342.30 L128.02,341.80 L127.64,341.30 L127.30,340.80 L126.98,340.30 L126.70,339.80 L126.45,339.30 L126.25,338.80 L126.09,338.30 L125.98,337.80 L125.91,337.30 L125.90,336.80 L125.95,336.30 L126.03,335.80 L126.15,335.30 L126.30,334.80 L126.48,334.30 L126.70,333.80 L126.94,333.30 L127.21,332.80 L127.50,332.30 L127.82,331.80 L128.15,331.30 L128.50,330.80 L128.86,330.30 L129.24,329.80 L129.62,329.30 L130.02,328.80 L130.41,328.30 L130.81,327.80 L131.21,327.30 L131.61,326.80 L132.01,326.30 L132.40,325.80 L132.78,325.30 L133.16,324.80 L133.53,324.30 L133.89,323.80 L134.23,323.30 L134.57,322.80 L134.89,322.30 L135.20,321.80 L135.50,321.30 L135.78,320.80 L136.05,320.30 L136.31,319.80 L136.55,319.30 L136.77,318.80 L136.99,318.30 L137.19,317.80 L137.37,317.30 L137.55,316.80 L137.71,316.30 L137.86,315.80 L138.00,315.30 L138.13,314.80 L138.24,314.30 L138.35,313.80 L138.45,313.30 L138.54,312.80 L138.62,312.30 L138.69,311.80 L138.76,311.30 L138.82,310.80 L138.88,310.30 L138.93,309.80 L138.97,309.30 L139.01,308.80 L139.05,308.30 L139.08,307.80 L139.11,307.30 L139.13,306.80 L139.15,306.30 L139.17,305.80 L139.19,305.30 L139.20,304.80 L139.20,304.30 L139.20,303.80 L139.20,303.30 L139.20,302.80 L139.20,302.30 L139.20,301.80 L139.20,301.30 L139.20,300.80 L139.20,300.30 Z" fill="url(#dots1)" stroke="none"/>
<line x1="129.52" y1="330.50" x2="149.08" y2="330.50" stroke="#8a8a8a" stroke-width="1.0" stroke-dasharray="1,0.6"/>
<line x1="128.74" y1="341.70" x2="149.86" y2="341.70" stroke="#8a8a8a" stroke-width="1.0" stroke-dasharray="1,0.6"/>
<line x1="126.90" y1="336.90" x2="151.70" y2="336.90" stroke="#111" stroke-width="1.7" stroke-dasharray="3.1,2.2"/>
<path d="M139.40,300.30 L139.40,300.80 L139.40,301.30 L139.40,301.80 L139.40,302.30 L139.40,302.80 L139.40,303.30 L139.40,303.80 L139.40,304.30 L139.40,304.80 L139.41,305.30 L139.43,305.80 L139.45,306.30 L139.47,306.80 L139.49,307.30 L139.52,307.80 L139.55,308.30 L139.59,308.80 L139.63,309.30 L139.67,309.80 L139.72,310.30 L139.78,310.80 L139.84,311.30 L139.91,311.80 L139.98,312.30 L140.06,312.80 L140.15,313.30 L140.25,313.80 L140.36,314.30 L140.47,314.80 L140.60,315.30 L140.74,315.80 L140.89,316.30 L141.05,316.80 L141.23,317.30 L141.41,317.80 L141.61,318.30 L141.83,318.80 L142.05,319.30 L142.29,319.80 L142.55,320.30 L142.82,320.80 L143.10,321.30 L143.40,321.80 L143.71,322.30 L144.03,322.80 L144.37,323.30 L144.71,323.80 L145.07,324.30 L145.44,324.80 L145.82,325.30 L146.20,325.80 L146.59,326.30 L146.99,326.80 L147.39,327.30 L147.79,327.80 L148.19,328.30 L148.58,328.80 L148.98,329.30 L149.36,329.80 L149.74,330.30 L150.10,330.80 L150.45,331.30 L150.78,331.80 L151.10,332.30 L151.39,332.80 L151.66,333.30 L151.90,333.80 L152.12,334.30 L152.30,334.80 L152.45,335.30 L152.57,335.80 L152.65,336.30 L152.70,336.80 L152.69,337.30 L152.62,337.80 L152.51,338.30 L152.35,338.80 L152.15,339.30 L151.90,339.80 L151.62,340.30 L151.30,340.80 L150.96,341.30 L150.58,341.80 L150.18,342.30 L149.77,342.80 L149.33,343.30 L148.89,343.80 L148.43,344.30 L147.97,344.80 L147.51,345.30 L147.05,345.80 L146.59,346.30 L146.14,346.80 L145.69,347.30 L145.26,347.80 L144.84,348.30 L144.43,348.80 L144.04,349.30 L143.67,349.80 L143.31,350.30 L142.98,350.80 L142.66,351.30 L142.35,351.80 L142.07,352.30 L141.81,352.80 L141.56,353.30 L141.34,353.80 L141.13,354.30 L140.94,354.80 L140.76,355.30 L140.60,355.80 L140.45,356.30 L140.32,356.80 L140.20,357.30 L140.09,357.80 L139.99,358.30 L139.90,358.80 L139.83,359.30 L139.76,359.80 L139.70,360.30 L139.64,360.80 L139.60,361.30 L139.55,361.80 L139.52,362.30 L139.49,362.80 L139.46,363.30 L139.44,363.80 L139.41,364.30 L139.40,364.80 L139.40,365.30 L139.40,365.80 L139.40,366.30 L139.40,366.80 L139.40,367.30 L139.40,367.80 L139.40,368.30 L139.40,368.80 L139.40,369.30 L139.40,369.80 L139.40,370.30 L139.40,370.80 L139.40,371.30 L139.40,371.80 L139.40,372.30 L139.40,372.80 L139.40,373.30 L139.40,373.80 L139.40,374.30 L139.40,374.80 L139.40,375.30 L139.40,375.80 L139.40,376.30 L139.40,376.80 L139.40,377.30 L139.40,377.80 L139.40,378.30 L139.40,378.80 L139.40,379.30 L139.40,379.80 L139.40,380.30 L139.40,380.80 L139.40,381.30 L139.40,381.80 L139.40,382.30 L139.40,382.80 L139.40,383.30 L139.40,383.80 L139.40,384.30 L139.40,384.80 L139.40,385.30 L139.40,385.80 L139.40,386.30 L139.40,386.80 L139.40,387.30 L139.40,387.80 L139.40,388.30 L139.40,388.80 L139.40,389.30 L139.40,389.80 L139.40,390.30 L139.40,390.80 L139.40,391.30 L139.40,391.80 L139.40,392.30 L139.40,392.80 L139.40,393.30 L139.40,393.80 L139.40,394.30 L139.40,394.80 L139.40,395.30 L139.40,395.80 L139.40,396.30 L139.40,396.80 L139.40,397.30 L139.40,397.80 L139.40,398.30 L139.40,398.80 L139.40,399.30 L139.40,399.80 L139.40,400.30 L139.40,400.80 L139.20,400.80 L139.20,400.30 L139.20,399.80 L139.20,399.30 L139.20,398.80 L139.20,398.30 L139.20,397.80 L139.20,397.30 L139.20,396.80 L139.20,396.30 L139.20,395.80 L139.20,395.30 L139.20,394.80 L139.20,394.30 L139.20,393.80 L139.20,393.30 L139.20,392.80 L139.20,392.30 L139.20,391.80 L139.20,391.30 L139.20,390.80 L139.20,390.30 L139.20,389.80 L139.20,389.30 L139.20,388.80 L139.20,388.30 L139.20,387.80 L139.20,387.30 L139.20,386.80 L139.20,386.30 L139.20,385.80 L139.20,385.30 L139.20,384.80 L139.20,384.30 L139.20,383.80 L139.20,383.30 L139.20,382.80 L139.20,382.30 L139.20,381.80 L139.20,381.30 L139.20,380.80 L139.20,380.30 L139.20,379.80 L139.20,379.30 L139.20,378.80 L139.20,378.30 L139.20,377.80 L139.20,377.30 L139.20,376.80 L139.20,376.30 L139.20,375.80 L139.20,375.30 L139.20,374.80 L139.20,374.30 L139.20,373.80 L139.20,373.30 L139.20,372.80 L139.20,372.30 L139.20,371.80 L139.20,371.30 L139.20,370.80 L139.20,370.30 L139.20,369.80 L139.20,369.30 L139.20,368.80 L139.20,368.30 L139.20,367.80 L139.20,367.30 L139.20,366.80 L139.20,366.30 L139.20,365.80 L139.20,365.30 L139.20,364.80 L139.19,364.30 L139.16,363.80 L139.14,363.30 L139.11,362.80 L139.08,362.30 L139.05,361.80 L139.00,361.30 L138.96,360.80 L138.90,360.30 L138.84,359.80 L138.77,359.30 L138.70,358.80 L138.61,358.30 L138.51,357.80 L138.40,357.30 L138.28,356.80 L138.15,356.30 L138.00,355.80 L137.84,355.30 L137.66,354.80 L137.47,354.30 L137.26,353.80 L137.04,353.30 L136.79,352.80 L136.53,352.30 L136.25,351.80 L135.94,351.30 L135.62,350.80 L135.29,350.30 L134.93,349.80 L134.56,349.30 L134.17,348.80 L133.76,348.30 L133.34,347.80 L132.91,347.30 L132.46,346.80 L132.01,346.30 L131.55,345.80 L131.09,345.30 L130.63,344.80 L130.17,344.30 L129.71,343.80 L129.27,343.30 L128.83,342.80 L128.42,342.30 L128.02,341.80 L127.64,341.30 L127.30,340.80 L126.98,340.30 L126.70,339.80 L126.45,339.30 L126.25,338.80 L126.09,338.30 L125.98,337.80 L125.91,337.30 L125.90,336.80 L125.95,336.30 L126.03,335.80 L126.15,335.30 L126.30,334.80 L126.48,334.30 L126.70,333.80 L126.94,333.30 L127.21,332.80 L127.50,332.30 L127.82,331.80 L128.15,331.30 L128.50,330.80 L128.86,330.30 L129.24,329.80 L129.62,329.30 L130.02,328.80 L130.41,328.30 L130.81,327.80 L131.21,327.30 L131.61,326.80 L132.01,326.30 L132.40,325.80 L132.78,325.30 L133.16,324.80 L133.53,324.30 L133.89,323.80 L134.23,323.30 L134.57,322.80 L134.89,322.30 L135.20,321.80 L135.50,321.30 L135.78,320.80 L136.05,320.30 L136.31,319.80 L136.55,319.30 L136.77,318.80 L136.99,318.30 L137.19,317.80 L137.37,317.30 L137.55,316.80 L137.71,316.30 L137.86,315.80 L138.00,315.30 L138.13,314.80 L138.24,314.30 L138.35,313.80 L138.45,313.30 L138.54,312.80 L138.62,312.30 L138.69,311.80 L138.76,311.30 L138.82,310.80 L138.88,310.30 L138.93,309.80 L138.97,309.30 L139.01,308.80 L139.05,308.30 L139.08,307.80 L139.11,307.30 L139.13,306.80 L139.15,306.30 L139.17,305.80 L139.19,305.30 L139.20,304.80 L139.20,304.30 L139.20,303.80 L139.20,303.30 L139.20,302.80 L139.20,302.30 L139.20,301.80 L139.20,301.30 L139.20,300.80 L139.20,300.30 Z" fill="none" stroke="#757575" stroke-width="1.15" stroke-linejoin="round"/>
<path d="M186.00,272.90 L186.00,273.40 L186.00,273.90 L186.00,274.40 L186.00,274.90 L186.00,275.40 L186.00,275.90 L186.00,276.40 L186.00,276.90 L186.00,277.40 L186.00,277.90 L186.00,278.40 L186.00,278.90 L186.00,279.40 L186.00,279.90 L186.00,280.40 L186.00,280.90 L186.00,281.40 L186.00,281.90 L186.00,282.40 L186.00,282.90 L186.00,283.40 L186.00,283.90 L186.00,284.40 L186.00,284.90 L186.00,285.40 L186.00,285.90 L186.00,286.40 L186.00,286.90 L186.00,287.40 L186.00,287.90 L186.00,288.40 L186.00,288.90 L186.00,289.40 L186.00,289.90 L186.00,290.40 L186.00,290.90 L186.00,291.40 L186.00,291.90 L186.00,292.40 L186.00,292.90 L186.00,293.40 L186.00,293.90 L186.00,294.40 L186.00,294.90 L186.00,295.40 L186.00,295.90 L186.00,296.40 L186.00,296.90 L186.00,297.40 L186.00,297.90 L186.00,298.40 L186.00,298.90 L186.00,299.40 L186.00,299.90 L186.00,300.40 L186.00,300.90 L186.00,301.40 L186.00,301.90 L186.00,302.40 L186.00,302.90 L186.00,303.40 L186.00,303.90 L186.00,304.40 L186.00,304.90 L186.00,305.40 L186.00,305.90 L186.00,306.40 L186.01,306.90 L186.03,307.40 L186.06,307.90 L186.09,308.40 L186.13,308.90 L186.17,309.40 L186.22,309.90 L186.28,310.40 L186.35,310.90 L186.43,311.40 L186.52,311.90 L186.62,312.40 L186.73,312.90 L186.86,313.40 L187.01,313.90 L187.17,314.40 L187.35,314.90 L187.55,315.40 L187.77,315.90 L188.02,316.40 L188.29,316.90 L188.58,317.40 L188.89,317.90 L189.24,318.40 L189.60,318.90 L189.99,319.40 L190.41,319.90 L190.85,320.40 L191.31,320.90 L191.78,321.40 L192.28,321.90 L192.79,322.40 L193.32,322.90 L193.85,323.40 L194.38,323.90 L194.91,324.40 L195.44,324.90 L195.95,325.40 L196.45,325.90 L196.92,326.40 L197.37,326.90 L197.77,327.40 L198.14,327.90 L198.46,328.40 L198.72,328.90 L198.92,329.40 L199.05,329.90 L199.10,330.40 L199.06,330.90 L198.93,331.40 L198.73,331.90 L198.45,332.40 L198.10,332.90 L197.68,333.40 L197.21,333.90 L196.69,334.40 L196.12,334.90 L195.53,335.40 L194.91,335.90 L194.28,336.40 L193.64,336.90 L193.01,337.40 L192.39,337.90 L191.78,338.40 L191.20,338.90 L190.65,339.40 L190.12,339.90 L189.64,340.40 L189.18,340.90 L188.77,341.40 L188.39,341.90 L188.04,342.40 L187.74,342.90 L187.46,343.40 L187.22,343.90 L187.01,344.40 L186.83,344.90 L186.67,345.40 L186.54,345.90 L186.42,346.40 L186.32,346.90 L186.24,347.40 L186.18,347.90 L186.12,348.40 L186.08,348.90 L186.04,349.40 L186.01,349.90 L186.00,350.40 L186.00,350.90 L186.00,351.40 L186.00,351.90 L186.00,352.40 L186.00,352.90 L186.00,353.40 L186.00,353.90 L186.00,354.40 L186.00,354.90 L186.00,355.40 L186.00,355.90 L186.00,356.40 L186.00,356.90 L186.00,357.20 L185.80,357.20 L185.80,356.90 L185.80,356.40 L185.80,355.90 L185.80,355.40 L185.80,354.90 L185.80,354.40 L185.80,353.90 L185.80,353.40 L185.80,352.90 L185.80,352.40 L185.80,351.90 L185.80,351.40 L185.80,350.90 L185.80,350.40 L185.79,349.90 L185.76,349.40 L185.72,348.90 L185.68,348.40 L185.62,347.90 L185.56,347.40 L185.48,346.90 L185.38,346.40 L185.26,345.90 L185.13,345.40 L184.97,344.90 L184.79,344.40 L184.58,343.90 L184.34,343.40 L184.06,342.90 L183.76,342.40 L183.41,341.90 L183.03,341.40 L182.62,340.90 L182.16,340.40 L181.68,339.90 L181.15,339.40 L180.60,338.90 L180.02,338.40 L179.41,337.90 L178.79,337.40 L178.16,336.90 L177.52,336.40 L176.89,335.90 L176.27,335.40 L175.68,334.90 L175.11,334.40 L174.59,333.90 L174.12,333.40 L173.70,332.90 L173.35,332.40 L173.07,331.90 L172.87,331.40 L172.74,330.90 L172.70,330.40 L172.75,329.90 L172.88,329.40 L173.08,328.90 L173.34,328.40 L173.66,327.90 L174.03,327.40 L174.43,326.90 L174.88,326.40 L175.35,325.90 L175.85,325.40 L176.36,324.90 L176.89,324.40 L177.42,323.90 L177.95,323.40 L178.48,322.90 L179.01,322.40 L179.52,321.90 L180.02,321.40 L180.49,320.90 L180.95,320.40 L181.39,319.90 L181.81,319.40 L182.20,318.90 L182.56,318.40 L182.91,317.90 L183.22,317.40 L183.51,316.90 L183.78,316.40 L184.03,315.90 L184.25,315.40 L184.45,314.90 L184.63,314.40 L184.79,313.90 L184.94,313.40 L185.07,312.90 L185.18,312.40 L185.28,311.90 L185.37,311.40 L185.45,310.90 L185.52,310.40 L185.58,309.90 L185.63,309.40 L185.67,308.90 L185.71,308.40 L185.74,307.90 L185.77,307.40 L185.79,306.90 L185.80,306.40 L185.80,305.90 L185.80,305.40 L185.80,304.90 L185.80,304.40 L185.80,303.90 L185.80,303.40 L185.80,302.90 L185.80,302.40 L185.80,301.90 L185.80,301.40 L185.80,300.90 L185.80,300.40 L185.80,299.90 L185.80,299.40 L185.80,298.90 L185.80,298.40 L185.80,297.90 L185.80,297.40 L185.80,296.90 L185.80,296.40 L185.80,295.90 L185.80,295.40 L185.80,294.90 L185.80,294.40 L185.80,293.90 L185.80,293.40 L185.80,292.90 L185.80,292.40 L185.80,291.90 L185.80,291.40 L185.80,290.90 L185.80,290.40 L185.80,289.90 L185.80,289.40 L185.80,288.90 L185.80,288.40 L185.80,287.90 L185.80,287.40 L185.80,286.90 L185.80,286.40 L185.80,285.90 L185.80,285.40 L185.80,284.90 L185.80,284.40 L185.80,283.90 L185.80,283.40 L185.80,282.90 L185.80,282.40 L185.80,281.90 L185.80,281.40 L185.80,280.90 L185.80,280.40 L185.80,279.90 L185.80,279.40 L185.80,278.90 L185.80,278.40 L185.80,277.90 L185.80,277.40 L185.80,276.90 L185.80,276.40 L185.80,275.90 L185.80,275.40 L185.80,274.90 L185.80,274.40 L185.80,273.90 L185.80,273.40 L185.80,272.90 Z" fill="url(#dots2)" stroke="none"/>
<line x1="176.95" y1="325.10" x2="194.85" y2="325.10" stroke="#8a8a8a" stroke-width="1.0" stroke-dasharray="1,0.6"/>
<line x1="175.60" y1="334.10" x2="196.20" y2="334.10" stroke="#8a8a8a" stroke-width="1.0" stroke-dasharray="1,0.6"/>
<line x1="173.72" y1="330.10" x2="198.08" y2="330.10" stroke="#111" stroke-width="1.7" stroke-dasharray="3.1,2.2"/>
<path d="M186.00,272.90 L186.00,273.40 L186.00,273.90 L186.00,274.40 L186.00,274.90 L186.00,275.40 L186.00,275.90 L186.00,276.40 L186.00,276.90 L186.00,277.40 L186.00,277.90 L186.00,278.40 L186.00,278.90 L186.00,279.40 L186.00,279.90 L186.00,280.40 L186.00,280.90 L186.00,281.40 L186.00,281.90 L186.00,282.40 L186.00,282.90 L186.00,283.40 L186.00,283.90 L186.00,284.40 L186.00,284.90 L186.00,285.40 L186.00,285.90 L186.00,286.40 L186.00,286.90 L186.00,287.40 L186.00,287.90 L186.00,288.40 L186.00,288.90 L186.00,289.40 L186.00,289.90 L186.00,290.40 L186.00,290.90 L186.00,291.40 L186.00,291.90 L186.00,292.40 L186.00,292.90 L186.00,293.40 L186.00,293.90 L186.00,294.40 L186.00,294.90 L186.00,295.40 L186.00,295.90 L186.00,296.40 L186.00,296.90 L186.00,297.40 L186.00,297.90 L186.00,298.40 L186.00,298.90 L186.00,299.40 L186.00,299.90 L186.00,300.40 L186.00,300.90 L186.00,301.40 L186.00,301.90 L186.00,302.40 L186.00,302.90 L186.00,303.40 L186.00,303.90 L186.00,304.40 L186.00,304.90 L186.00,305.40 L186.00,305.90 L186.00,306.40 L186.01,306.90 L186.03,307.40 L186.06,307.90 L186.09,308.40 L186.13,308.90 L186.17,309.40 L186.22,309.90 L186.28,310.40 L186.35,310.90 L186.43,311.40 L186.52,311.90 L186.62,312.40 L186.73,312.90 L186.86,313.40 L187.01,313.90 L187.17,314.40 L187.35,314.90 L187.55,315.40 L187.77,315.90 L188.02,316.40 L188.29,316.90 L188.58,317.40 L188.89,317.90 L189.24,318.40 L189.60,318.90 L189.99,319.40 L190.41,319.90 L190.85,320.40 L191.31,320.90 L191.78,321.40 L192.28,321.90 L192.79,322.40 L193.32,322.90 L193.85,323.40 L194.38,323.90 L194.91,324.40 L195.44,324.90 L195.95,325.40 L196.45,325.90 L196.92,326.40 L197.37,326.90 L197.77,327.40 L198.14,327.90 L198.46,328.40 L198.72,328.90 L198.92,329.40 L199.05,329.90 L199.10,330.40 L199.06,330.90 L198.93,331.40 L198.73,331.90 L198.45,332.40 L198.10,332.90 L197.68,333.40 L197.21,333.90 L196.69,334.40 L196.12,334.90 L195.53,335.40 L194.91,335.90 L194.28,336.40 L193.64,336.90 L193.01,337.40 L192.39,337.90 L191.78,338.40 L191.20,338.90 L190.65,339.40 L190.12,339.90 L189.64,340.40 L189.18,340.90 L188.77,341.40 L188.39,341.90 L188.04,342.40 L187.74,342.90 L187.46,343.40 L187.22,343.90 L187.01,344.40 L186.83,344.90 L186.67,345.40 L186.54,345.90 L186.42,346.40 L186.32,346.90 L186.24,347.40 L186.18,347.90 L186.12,348.40 L186.08,348.90 L186.04,349.40 L186.01,349.90 L186.00,350.40 L186.00,350.90 L186.00,351.40 L186.00,351.90 L186.00,352.40 L186.00,352.90 L186.00,353.40 L186.00,353.90 L186.00,354.40 L186.00,354.90 L186.00,355.40 L186.00,355.90 L186.00,356.40 L186.00,356.90 L186.00,357.20 L185.80,357.20 L185.80,356.90 L185.80,356.40 L185.80,355.90 L185.80,355.40 L185.80,354.90 L185.80,354.40 L185.80,353.90 L185.80,353.40 L185.80,352.90 L185.80,352.40 L185.80,351.90 L185.80,351.40 L185.80,350.90 L185.80,350.40 L185.79,349.90 L185.76,349.40 L185.72,348.90 L185.68,348.40 L185.62,347.90 L185.56,347.40 L185.48,346.90 L185.38,346.40 L185.26,345.90 L185.13,345.40 L184.97,344.90 L184.79,344.40 L184.58,343.90 L184.34,343.40 L184.06,342.90 L183.76,342.40 L183.41,341.90 L183.03,341.40 L182.62,340.90 L182.16,340.40 L181.68,339.90 L181.15,339.40 L180.60,338.90 L180.02,338.40 L179.41,337.90 L178.79,337.40 L178.16,336.90 L177.52,336.40 L176.89,335.90 L176.27,335.40 L175.68,334.90 L175.11,334.40 L174.59,333.90 L174.12,333.40 L173.70,332.90 L173.35,332.40 L173.07,331.90 L172.87,331.40 L172.74,330.90 L172.70,330.40 L172.75,329.90 L172.88,329.40 L173.08,328.90 L173.34,328.40 L173.66,327.90 L174.03,327.40 L174.43,326.90 L174.88,326.40 L175.35,325.90 L175.85,325.40 L176.36,324.90 L176.89,324.40 L177.42,323.90 L177.95,323.40 L178.48,322.90 L179.01,322.40 L179.52,321.90 L180.02,321.40 L180.49,320.90 L180.95,320.40 L181.39,319.90 L181.81,319.40 L182.20,318.90 L182.56,318.40 L182.91,317.90 L183.22,317.40 L183.51,316.90 L183.78,316.40 L184.03,315.90 L184.25,315.40 L184.45,314.90 L184.63,314.40 L184.79,313.90 L184.94,313.40 L185.07,312.90 L185.18,312.40 L185.28,311.90 L185.37,311.40 L185.45,310.90 L185.52,310.40 L185.58,309.90 L185.63,309.40 L185.67,308.90 L185.71,308.40 L185.74,307.90 L185.77,307.40 L185.79,306.90 L185.80,306.40 L185.80,305.90 L185.80,305.40 L185.80,304.90 L185.80,304.40 L185.80,303.90 L185.80,303.40 L185.80,302.90 L185.80,302.40 L185.80,301.90 L185.80,301.40 L185.80,300.90 L185.80,300.40 L185.80,299.90 L185.80,299.40 L185.80,298.90 L185.80,298.40 L185.80,297.90 L185.80,297.40 L185.80,296.90 L185.80,296.40 L185.80,295.90 L185.80,295.40 L185.80,294.90 L185.80,294.40 L185.80,293.90 L185.80,293.40 L185.80,292.90 L185.80,292.40 L185.80,291.90 L185.80,291.40 L185.80,290.90 L185.80,290.40 L185.80,289.90 L185.80,289.40 L185.80,288.90 L185.80,288.40 L185.80,287.90 L185.80,287.40 L185.80,286.90 L185.80,286.40 L185.80,285.90 L185.80,285.40 L185.80,284.90 L185.80,284.40 L185.80,283.90 L185.80,283.40 L185.80,282.90 L185.80,282.40 L185.80,281.90 L185.80,281.40 L185.80,280.90 L185.80,280.40 L185.80,279.90 L185.80,279.40 L185.80,278.90 L185.80,278.40 L185.80,277.90 L185.80,277.40 L185.80,276.90 L185.80,276.40 L185.80,275.90 L185.80,275.40 L185.80,274.90 L185.80,274.40 L185.80,273.90 L185.80,273.40 L185.80,272.90 Z" fill="none" stroke="#1ba9f0" stroke-width="1.15" stroke-linejoin="round"/>
<rect x="202.50" y="274.50" width="10.60" height="4.30" fill="none" stroke="#f89c30" stroke-width="1.3" />
<line x1="204.00" y1="276.65" x2="211.60" y2="276.65" stroke="#bbb" stroke-width="0.8" stroke-dasharray="1,1"/>
<text transform="translate(220.50,279.50) scale(1.0,1.06)" font-size="8.8" text-anchor="start" font-weight="normal" fill="#222" stroke="#222" stroke-width="0">lncRNA</text>
<rect x="202.50" y="287.00" width="10.60" height="4.30" fill="none" stroke="#6e6e6e" stroke-width="1.3" />
<line x1="204.00" y1="289.15" x2="211.60" y2="289.15" stroke="#bbb" stroke-width="0.8" stroke-dasharray="1,1"/>
<text transform="translate(220.50,292.00) scale(1.0,1.06)" font-size="8.8" text-anchor="start" font-weight="normal" fill="#222" stroke="#222" stroke-width="0">lincRNA</text>
<rect x="202.50" y="300.10" width="10.60" height="4.30" fill="none" stroke="#1ba9f0" stroke-width="1.3" />
<line x1="204.00" y1="302.25" x2="211.60" y2="302.25" stroke="#bbb" stroke-width="0.8" stroke-dasharray="1,1"/>
<text transform="translate(220.50,305.10) scale(1.0,1.06)" font-size="8.8" text-anchor="start" font-weight="normal" fill="#222" stroke="#222" stroke-width="0">coding gene</text>
<text transform="translate(318.00,264.60) scale(1.0,1.06)" font-size="10.5" text-anchor="start" font-weight="bold" fill="#222" stroke="#222" stroke-width="0">D</text>
<line x1="342.10" y1="273.60" x2="342.10" y2="401.10" stroke="#606060" stroke-width="1.3" />
<line x1="338.20" y1="401.10" x2="342.10" y2="401.10" stroke="#606060" stroke-width="1.3" />
<text transform="translate(336.80,405.10) scale(0.92,1.05)" font-size="10.5" text-anchor="end" font-weight="normal" fill="#222" stroke="#222" stroke-width="0">0</text>
<line x1="340.20" y1="379.85" x2="342.10" y2="379.85" stroke="#606060" stroke-width="1.3" />
<line x1="338.20" y1="358.60" x2="342.10" y2="358.60" stroke="#606060" stroke-width="1.3" />
<text transform="translate(336.80,362.60) scale(0.92,1.05)" font-size="10.5" text-anchor="end" font-weight="normal" fill="#222" stroke="#222" stroke-width="0">1</text>
<line x1="340.20" y1="337.35" x2="342.10" y2="337.35" stroke="#606060" stroke-width="1.3" />
<line x1="338.20" y1="316.10" x2="342.10" y2="316.10" stroke="#606060" stroke-width="1.3" />
<text transform="translate(336.80,320.10) scale(0.92,1.05)" font-size="10.5" text-anchor="end" font-weight="normal" fill="#222" stroke="#222" stroke-width="0">2</text>
<line x1="340.20" y1="294.85" x2="342.10" y2="294.85" stroke="#606060" stroke-width="1.3" />
<line x1="338.20" y1="273.60" x2="342.10" y2="273.60" stroke="#606060" stroke-width="1.3" />
<text transform="translate(336.80,277.60) scale(0.92,1.05)" font-size="10.5" text-anchor="end" font-weight="normal" fill="#222" stroke="#222" stroke-width="0">3</text>
<text transform="translate(323.50,336.00) rotate(-90) scale(1.0,1.06)" font-size="10.5" text-anchor="middle" font-weight="normal" fill="#222" stroke="#222" stroke-width="0">log10(TPM+1)</text>
<text transform="translate(370.00,415.60) scale(1.0,1.06)" font-size="10.5" text-anchor="middle" font-weight="normal" fill="#222" stroke="#222" stroke-width="0">lncRNA</text>
<text transform="translate(416.30,415.60) scale(1.0,1.06)" font-size="10.5" text-anchor="middle" font-weight="normal" fill="#222" stroke="#222" stroke-width="0">lincRNA</text>
<text transform="translate(465.00,415.60) scale(1.0,1.06)" font-size="10.5" text-anchor="middle" font-weight="normal" fill="#222" stroke="#222" stroke-width="0">coding gene</text>
<line x1="370.00" y1="302.90" x2="370.00" y2="356.70" stroke="#f89c30" stroke-width="1.35" />
<line x1="370.00" y1="395.10" x2="370.00" y2="400.80" stroke="#f89c30" stroke-width="1.35" />
<line x1="363.15" y1="302.90" x2="376.85" y2="302.90" stroke="#f89c30" stroke-width="1.35" />
<line x1="363.15" y1="400.80" x2="376.85" y2="400.80" stroke="#f89c30" stroke-width="1.35" />
<rect x="356.90" y="356.70" width="26.70" height="38.40" fill="none" stroke="#f89c30" stroke-width="1.35" />
<line x1="356.90" y1="379.40" x2="383.60" y2="379.40" stroke="#f89c30" stroke-width="1.35" />
<line x1="417.00" y1="305.80" x2="417.00" y2="385.20" stroke="#6e6e6e" stroke-width="1.35" />
<line x1="417.00" y1="397.50" x2="417.00" y2="400.80" stroke="#6e6e6e" stroke-width="1.35" />
<line x1="410.00" y1="305.80" x2="424.00" y2="305.80" stroke="#6e6e6e" stroke-width="1.35" />
<line x1="410.00" y1="400.80" x2="424.00" y2="400.80" stroke="#6e6e6e" stroke-width="1.35" />
<rect x="403.40" y="385.20" width="27.40" height="12.30" fill="none" stroke="#6e6e6e" stroke-width="1.35" />
<line x1="403.40" y1="394.00" x2="430.80" y2="394.00" stroke="#6e6e6e" stroke-width="1.35" />
<line x1="463.00" y1="293.60" x2="463.00" y2="349.50" stroke="#1ba9f0" stroke-width="1.35" />
<line x1="463.00" y1="375.60" x2="463.00" y2="400.80" stroke="#1ba9f0" stroke-width="1.35" />
<line x1="456.20" y1="293.60" x2="469.80" y2="293.60" stroke="#1ba9f0" stroke-width="1.35" />
<line x1="456.20" y1="400.80" x2="469.80" y2="400.80" stroke="#1ba9f0" stroke-width="1.35" />
<rect x="450.00" y="349.50" width="26.70" height="26.10" fill="none" stroke="#1ba9f0" stroke-width="1.35" />
<line x1="450.00" y1="358.80" x2="476.70" y2="358.80" stroke="#1ba9f0" stroke-width="1.35" />
<line x1="338.20" y1="401.10" x2="491.30" y2="401.10" stroke="#606060" stroke-width="1.3" />
<line x1="370.00" y1="401.10" x2="370.00" y2="405.10" stroke="#606060" stroke-width="1.3" />
<line x1="417.00" y1="401.10" x2="417.00" y2="405.10" stroke="#606060" stroke-width="1.3" />
<line x1="463.00" y1="401.10" x2="463.00" y2="405.10" stroke="#606060" stroke-width="1.3" />
<rect x="484.10" y="274.10" width="9.80" height="4.00" fill="none" stroke="#f89c30" stroke-width="1.3" />
<text transform="translate(502.00,278.80) scale(1.0,1.06)" font-size="9" text-anchor="start" font-weight="normal" fill="#222" stroke="#222" stroke-width="0">lncRNA</text>
<rect x="484.10" y="288.50" width="9.80" height="4.00" fill="none" stroke="#6e6e6e" stroke-width="1.3" />
<text transform="translate(502.00,293.20) scale(1.0,1.06)" font-size="9" text-anchor="start" font-weight="normal" fill="#222" stroke="#222" stroke-width="0">lincRNA</text>
<rect x="484.10" y="302.50" width="9.80" height="4.00" fill="none" stroke="#1ba9f0" stroke-width="1.3" />
<text transform="translate(502.00,307.20) scale(1.0,1.06)" font-size="9" text-anchor="start" font-weight="normal" fill="#222" stroke="#222" stroke-width="0">coding gene</text>
</svg></body></html>
